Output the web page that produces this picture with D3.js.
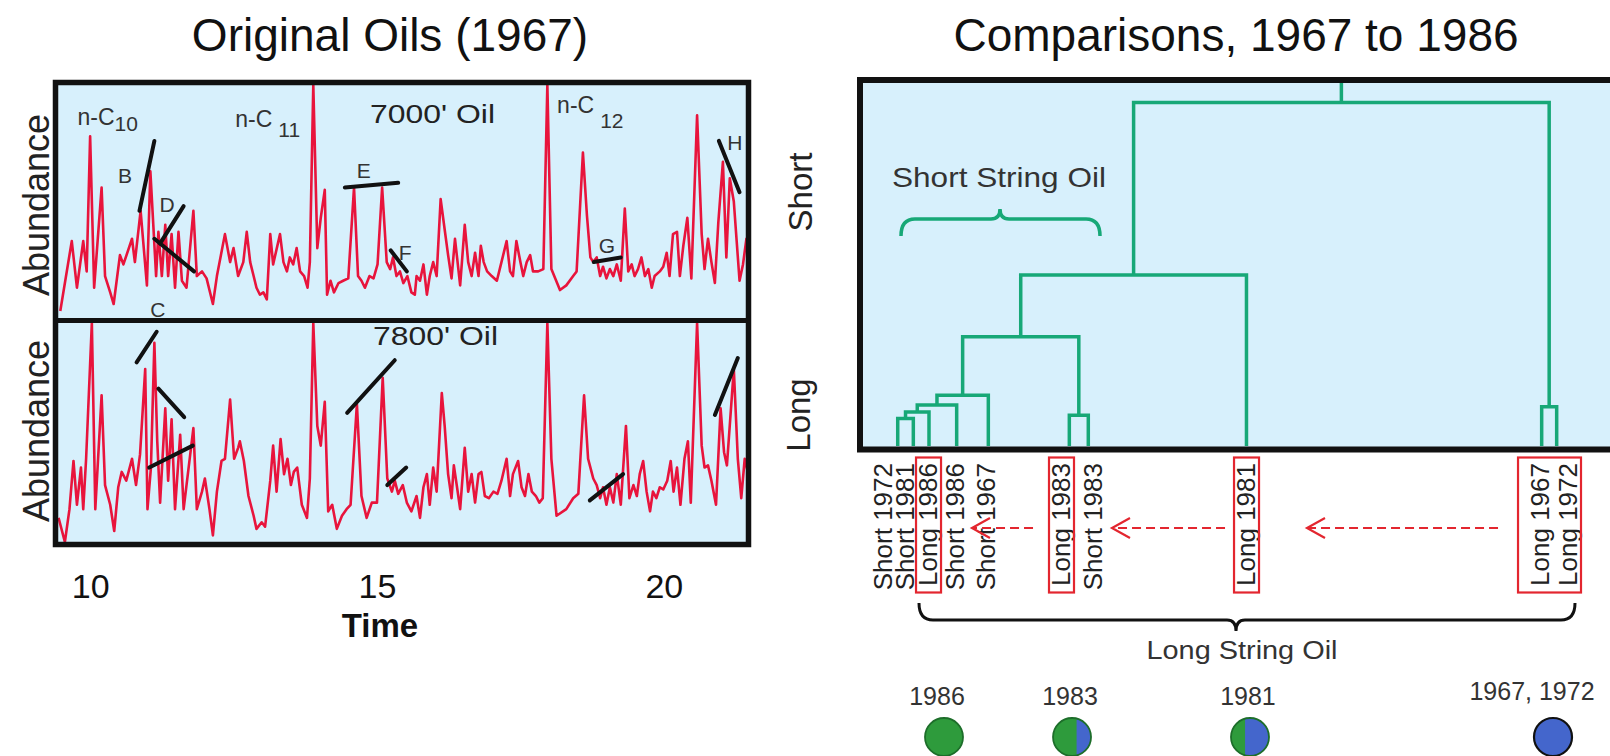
<!DOCTYPE html>
<html><head><meta charset="utf-8">
<script src="https://cdn.jsdelivr.net/npm/d3@7"></script>
<style>html,body{margin:0;padding:0;background:#fff;overflow:hidden}svg{display:block}</style>
</head><body><svg id="c" width="1610" height="756"></svg>
<script>
// ---------------- DATA ----------------
const timeTicks = [10, 15, 20];
// chromatogram 7000' oil : [time, relative abundance %]
const oil7000 = [[9.48,3],[9.68,33],[9.77,13],[9.88,33],[9.94,20],[10.00,78],[10.07,13],[10.20,56],[10.26,18],[10.35,11],[10.41,6],[10.52,27],[10.58,23],[10.73,34],[10.78,24],[10.88,46],[10.99,14],[11.05,63],[11.15,18],[11.19,37],[11.25,18],[11.31,40],[11.36,18],[11.42,36],[11.48,13],[11.54,37],[11.60,16],[11.68,13],[11.80,46],[11.86,18],[11.95,20],[12.03,17],[12.14,6],[12.21,18],[12.35,36],[12.44,24],[12.50,30],[12.58,18],[12.67,24],[12.73,37],[12.79,24],[12.85,18],[12.90,13],[12.96,10],[13.02,11],[13.08,8],[13.14,36],[13.19,23],[13.31,36],[13.37,24],[13.43,20],[13.48,26],[13.54,23],[13.60,30],[13.66,20],[13.73,18],[13.79,13],[13.83,24],[13.89,100],[13.96,30],[14.02,43],[14.09,55],[14.13,10],[14.19,16],[14.25,11],[14.33,15],[14.41,16],[14.50,17],[14.60,56],[14.67,18],[14.73,16],[14.79,13],[14.87,18],[14.94,17],[15.01,23],[15.09,56],[15.17,24],[15.23,21],[15.28,26],[15.34,18],[15.40,20],[15.46,15],[15.53,18],[15.60,11],[15.66,10],[15.69,18],[15.75,16],[15.81,23],[15.87,10],[15.92,18],[15.98,24],[16.04,18],[16.11,51],[16.18,38],[16.24,27],[16.30,17],[16.36,34],[16.45,14],[16.53,40],[16.59,24],[16.65,18],[16.71,28],[16.77,18],[16.81,31],[16.86,24],[16.92,20],[17.00,18],[17.09,16],[17.17,24],[17.26,33],[17.32,20],[17.37,18],[17.43,33],[17.50,24],[17.55,18],[17.61,24],[17.67,27],[17.72,20],[17.81,20],[17.90,21],[17.97,100],[18.04,21],[18.19,12],[18.30,14],[18.42,18],[18.48,20],[18.59,71],[18.66,44],[18.72,26],[18.77,24],[18.83,26],[18.89,18],[18.94,22],[19.00,17],[19.06,21],[19.12,18],[19.18,23],[19.25,16],[19.32,47],[19.38,20],[19.44,23],[19.49,18],[19.55,21],[19.61,26],[19.67,18],[19.73,21],[19.79,13],[19.84,18],[19.93,20],[19.99,22],[20.05,28],[20.10,18],[20.16,36],[20.23,37],[20.28,18],[20.34,31],[20.41,43],[20.48,17],[20.58,87],[20.66,36],[20.71,21],[20.77,34],[20.83,24],[20.89,15],[20.95,41],[21.03,67],[21.09,26],[21.15,60],[21.22,50],[21.27,33],[21.32,16],[21.38,23],[21.44,34],[21.49,20]];
// chromatogram 7800' oil
const oil7800 = [[9.45,11],[9.56,0],[9.64,15],[9.71,37],[9.77,17],[9.84,34],[9.88,15],[9.93,38],[10.03,100],[10.09,15],[10.20,67],[10.26,26],[10.35,17],[10.42,5],[10.49,25],[10.55,32],[10.63,28],[10.73,38],[10.80,26],[10.87,40],[10.96,79],[11.00,15],[11.06,34],[11.12,91],[11.17,46],[11.22,18],[11.31,61],[11.36,28],[11.42,56],[11.48,15],[11.57,49],[11.63,15],[11.80,52],[11.86,15],[11.95,23],[12.00,29],[12.08,15],[12.14,3],[12.21,23],[12.29,37],[12.35,38],[12.44,65],[12.51,38],[12.58,43],[12.61,46],[12.68,37],[12.76,21],[12.85,12],[12.90,6],[12.99,9],[13.05,7],[13.14,28],[13.19,44],[13.25,23],[13.32,47],[13.38,31],[13.44,38],[13.50,26],[13.55,32],[13.61,34],[13.69,17],[13.78,11],[13.83,29],[13.89,100],[13.96,53],[14.02,44],[14.09,64],[14.15,14],[14.22,17],[14.30,6],[14.39,12],[14.47,15],[14.54,17],[14.65,63],[14.73,21],[14.82,11],[14.91,18],[15.00,18],[15.10,75],[15.18,29],[15.26,23],[15.31,28],[15.37,22],[15.45,26],[15.52,18],[15.60,14],[15.69,21],[15.75,11],[15.81,25],[15.87,31],[15.92,17],[15.98,34],[16.04,23],[16.13,68],[16.18,53],[16.24,31],[16.30,20],[16.34,35],[16.39,26],[16.45,15],[16.53,43],[16.59,23],[16.65,31],[16.71,18],[16.77,31],[16.82,32],[16.88,21],[16.95,20],[17.03,23],[17.10,22],[17.17,28],[17.26,38],[17.32,21],[17.37,31],[17.46,37],[17.52,25],[17.58,21],[17.64,31],[17.70,23],[17.77,21],[17.83,18],[17.89,20],[17.97,100],[18.04,38],[18.13,12],[18.30,15],[18.42,20],[18.51,22],[18.61,67],[18.68,38],[18.74,32],[18.77,29],[18.83,26],[18.89,20],[18.94,25],[19.00,17],[19.06,25],[19.12,18],[19.18,31],[19.25,17],[19.34,53],[19.40,20],[19.47,26],[19.53,21],[19.58,31],[19.64,37],[19.70,23],[19.76,14],[19.81,23],[19.87,20],[19.93,25],[19.99,24],[20.06,28],[20.12,37],[20.17,23],[20.23,34],[20.29,17],[20.36,38],[20.42,46],[20.47,18],[20.58,100],[20.66,44],[20.71,34],[20.77,35],[20.83,28],[20.91,17],[20.99,61],[21.05,41],[21.10,35],[21.22,79],[21.29,38],[21.35,20],[21.41,38],[21.49,29]];
// black tangent marks [[t1,a1],[t2,a2]]
const marks7000 = [[[10.86,46],[11.12,76]],[[11.22,32],[11.63,48]],[[11.12,34],[11.81,20]],[[14.44,56],[15.37,58]],[[15.24,29],[15.52,20]],[[18.78,24],[19.25,26]],[[20.96,76],[21.32,54]]];
const marks7800 = [[[10.81,82],[11.16,96]],[[11.19,70],[11.64,57]],[[11.03,34],[11.79,44]],[[14.48,59],[15.31,83]],[[15.18,26],[15.51,34]],[[18.71,19],[19.29,31]],[[20.89,58],[21.29,84]]];
// peak letters [letter, time, abundance]
const peakLetters = [["B",10.61,58],["C",11.18,0.5],["D",11.34,45.5],["E",14.77,60],["F",15.49,25],["G",19.01,28],["H",21.24,72]];
// alkane markers [text, subscript, time, abundance]
const alkanes = [["n-C","10",9.78,83],["n-C","11",12.53,82],["n-C","12",18.14,88]];

// dendrogram
const leafNames = ["Short 1972","Short 1981","Long 1986","Short 1986","Short 1967","Long 1983","Short 1983","Long 1981","Long 1967","Long 1972"];
const leafPos   = [5.03, 7.11, 9.2, 12.89, 17.11, 27.91, 30.44, 51.53, 90.89, 92.89];
const labelPos  = [3.07, 6.0, 9.07, 12.67, 16.8, 26.8, 31.07, 51.47, 90.67, 94.4];
// merges: [childA, childB, distance]; new node ids start at 10
const merges = [[0,1,7.6],[10,2,9.4],[11,3,11.3],[12,4,14.0],[5,6,8.5],[13,14,30.1],[15,7,47.1],[8,9,10.8],[16,17,94.6]];
const boxedGroups = [["Long 1986"],["Long 1983"],["Long 1981"],["Long 1967","Long 1972"]];
const arrows = [[23.07,14.93],[48.67,33.6],[85.07,59.6]];
const yearLabels = ["1986","1983","1981","1967, 1972"];
const yearLabelPos = [10.27, 28.0, 51.73, 89.6];
const yearCirclePos = [11.2, 28.27, 52.0, 92.4];
const greenShare = [1, 0.62, 0.37, 0];

// ---------------- DRAW ----------------
const FONT = "'Liberation Sans', Arial, Helvetica, sans-serif";
const svg = d3.select("#c").attr("font-family", FONT);
const BLUE_BG = "#d7f0fc", RED = "#e8143c", GREEN = "#17a877";

// titles
svg.append("text").attr("x",390).attr("y",51).attr("text-anchor","middle").attr("font-size",46).attr("fill","#111").text("Original Oils (1967)");
svg.append("text").attr("x",1236).attr("y",51).attr("text-anchor","middle").attr("font-size",46).attr("fill","#111").text("Comparisons, 1967 to 1986");

// ----- left chart -----
const xT = d3.scaleLinear().domain([9.44, 21.45]).range([58, 747]);
const panels = [
  {data: oil7000, marks: marks7000, y: d3.scaleLinear().domain([0,100]).range([318,85]), y0: 85, y1: 318, id: "p1"},
  {data: oil7800, marks: marks7800, y: d3.scaleLinear().domain([0,100]).range([542,323]), y0: 323, y1: 542, id: "p2"}
];
svg.append("rect").attr("x",55.5).attr("y",82.5).attr("width",693).attr("height",462).attr("fill",BLUE_BG);
const defs = svg.append("defs");
panels.forEach(p => {
  defs.append("clipPath").attr("id", p.id).append("rect")
    .attr("x", 58).attr("y", p.y0 - 2).attr("width", 689).attr("height", p.y1 - p.y0 + 2);
  const line = d3.line().x(d => xT(d[0])).y(d => p.y(d[1]));
  svg.append("path").datum(p.data).attr("clip-path", `url(#${p.id})`)
    .attr("d", line).attr("fill","none").attr("stroke",RED).attr("stroke-width",2.6).attr("stroke-linejoin","round");
  svg.append("g").selectAll("line").data(p.marks).join("line")
    .attr("x1", d => xT(d[0][0])).attr("y1", d => p.y(d[0][1]))
    .attr("x2", d => xT(d[1][0])).attr("y2", d => p.y(d[1][1]))
    .attr("stroke","#111").attr("stroke-width",4).attr("stroke-linecap","round");
});
// left box borders
svg.append("rect").attr("x",55.5).attr("y",82.5).attr("width",693).attr("height",462)
  .attr("fill","none").attr("stroke","#111").attr("stroke-width",5.5);
svg.append("line").attr("x1",55).attr("x2",749).attr("y1",320.5).attr("y2",320.5).attr("stroke","#111").attr("stroke-width",5);

// panel texts
const yP1 = panels[0].y, yP2 = panels[1].y;
svg.append("g").selectAll("text").data(peakLetters).join("text")
  .attr("x", d => xT(d[1])).attr("y", d => yP1(d[2])).attr("text-anchor","middle")
  .attr("font-size",21).attr("fill","#333").text(d => d[0]);
alkanes.forEach((d,i) => {
  const t = svg.append("text").attr("x", xT(d[2])).attr("y", yP1(d[3])).attr("font-size",23).attr("fill","#333");
  t.append("tspan").text(d[0]);
  t.append("tspan").attr("dx", i === 0 ? 0 : 6).attr("dy", [6, 10, 15][i]).attr("font-size",21).text(d[1]);
});
svg.append("text").attr("x",370).attr("y",123).attr("font-size",26).attr("fill","#222")
  .attr("textLength",125).attr("lengthAdjust","spacingAndGlyphs").text("7000' Oil");
svg.append("text").attr("x",373).attr("y",345).attr("font-size",26).attr("fill","#222")
  .attr("textLength",125).attr("lengthAdjust","spacingAndGlyphs").text("7800' Oil");

// axis labels
[205, 431].forEach(cy => {
  svg.append("text").attr("transform",`translate(49,${cy}) rotate(-90)`).attr("text-anchor","middle")
    .attr("font-size",36).attr("fill","#222").text("Abundance");
});
const ax = svg.append("g").attr("transform","translate(0,547)")
  .call(d3.axisBottom(xT).tickValues(timeTicks).tickSize(0).tickPadding(27));
ax.select(".domain").remove();
ax.selectAll("text").attr("font-size",34).attr("font-family",FONT).attr("fill","#111");
svg.append("text").attr("x",380).attr("y",637).attr("text-anchor","middle").attr("font-size",33)
  .attr("font-weight","bold").attr("fill","#111").text("Time");

// ----- right chart (dendrogram) -----
const dX = d3.scaleLinear().domain([0,100]).range([860,1610]);
const dY = d3.scaleLinear().domain([0,100]).range([446,83]);
svg.append("rect").attr("x",860).attr("y",80).attr("width",900).attr("height",369.5).attr("fill",BLUE_BG);

const nodes = leafPos.map(p => ({x: dX(p), h: 0}));
merges.forEach(m => {
  const a = nodes[m[0]], b = nodes[m[1]];
  nodes.push({x: (a.x + b.x) / 2, h: m[2], a, b});
});
const dg = svg.append("g").attr("fill","none").attr("stroke",GREEN).attr("stroke-width",3.5).attr("stroke-linejoin","miter");
nodes.filter(n => n.a).forEach(n => {
  dg.append("path").attr("d",
    `M${n.a.x},${dY(n.a.h)}V${dY(n.h)}H${n.b.x}V${dY(n.b.h)}`);
});
const root = nodes[nodes.length - 1];
dg.append("path").attr("d", `M${root.x},${dY(root.h)}V${dY(100)}`);

svg.append("rect").attr("x",860).attr("y",80).attr("width",900).attr("height",369.5)
  .attr("fill","none").attr("stroke","#111").attr("stroke-width",6);

svg.append("text").attr("transform","translate(812,192) rotate(-90)").attr("text-anchor","middle")
  .attr("font-size",33).attr("fill","#222").text("Short");
svg.append("text").attr("transform","translate(810,415) rotate(-90)").attr("text-anchor","middle")
  .attr("font-size",33).attr("fill","#222").text("Long");

// Short String Oil + green brace
svg.append("text").attr("x",999).attr("y",187).attr("text-anchor","middle").attr("font-size",28)
  .attr("fill","#333").attr("textLength",214).attr("lengthAdjust","spacingAndGlyphs").text("Short String Oil");
function brace(x0, x1, tip, yEnd, yLine, yTip) {
  return `M${x0},${yEnd}Q${x0},${yLine} ${x0+14},${yLine}L${tip-9},${yLine}Q${tip},${yLine} ${tip},${yTip}` +
         `Q${tip},${yLine} ${tip+9},${yLine}L${x1-14},${yLine}Q${x1},${yLine} ${x1},${yEnd}`;
}
svg.append("path").attr("d", brace(901, 1100, 1000, 236, 219, 209)).attr("fill","none")
  .attr("stroke",GREEN).attr("stroke-width",3.5);

// leaf labels
const labelX = leafNames.map((n,i) => dX(labelPos[i]));
svg.append("g").selectAll("text").data(leafNames).join("text")
  .attr("transform", (d,i) => `translate(${labelX[i]},463) rotate(-90)`)
  .attr("text-anchor","end").attr("dy","0.36em").attr("font-size",26).attr("fill","#222").text(d => d);

// red boxes
boxedGroups.forEach(g => {
  const xs = g.map(n => labelX[leafNames.indexOf(n)]);
  const left = d3.min(xs) - (g.length > 1 ? 22 : 12), right = d3.max(xs) + 13;
  svg.append("rect").attr("x", left).attr("y", 457.5).attr("width", right - left).attr("height", 135)
    .attr("fill","none").attr("stroke","#e3262f").attr("stroke-width",2.2);
});
// dashed arrows
arrows.forEach(a => {
  const x0 = dX(a[0]), x1 = dX(a[1]);
  svg.append("line").attr("x1",x0).attr("x2",x1+2).attr("y1",528).attr("y2",528)
    .attr("stroke","#e3262f").attr("stroke-width",2.2).attr("stroke-dasharray","9,5");
  svg.append("path").attr("d",`M${x1+18},518L${x1},528L${x1+18},538`).attr("fill","none")
    .attr("stroke","#e3262f").attr("stroke-width",2.2);
});

// Long String Oil brace
svg.append("path").attr("d", brace(919, 1575, 1236, 603, 620, 631)).attr("fill","none")
  .attr("stroke","#111").attr("stroke-width",3);
svg.append("text").attr("x",1242).attr("y",659).attr("text-anchor","middle").attr("font-size",25)
  .attr("fill","#333").attr("textLength",191).attr("lengthAdjust","spacingAndGlyphs").text("Long String Oil");

// year circles
svg.append("g").selectAll("text").data(yearLabels).join("text")
  .attr("x",(d,i) => dX(yearLabelPos[i])).attr("y",(d,i) => i === 3 ? 700 : 705).attr("text-anchor","middle")
  .attr("font-size",25).attr("fill","#333").text(d => d);
yearLabels.forEach((d,i) => {
  const cx = dX(yearCirclePos[i]), cy = 737, r = 19;
  const cid = "cc" + i;
  defs.append("clipPath").attr("id", cid).append("circle").attr("cx",cx).attr("cy",cy).attr("r",r);
  const g = svg.append("g");
  g.append("rect").attr("clip-path",`url(#${cid})`).attr("x",cx-r).attr("y",cy-r).attr("width",2*r).attr("height",2*r).attr("fill","#4466cc");
  g.append("rect").attr("clip-path",`url(#${cid})`).attr("x",cx-r).attr("y",cy-r).attr("width",2*r*greenShare[i]).attr("height",2*r).attr("fill","#2e9b3c");
  g.append("circle").attr("cx",cx).attr("cy",cy).attr("r",r).attr("fill","none")
    .attr("stroke", greenShare[i] > 0 ? "#1d6e2a" : "#111").attr("stroke-width", greenShare[i] > 0 ? 1.8 : 2.2);
});
</script>
</body></html>
